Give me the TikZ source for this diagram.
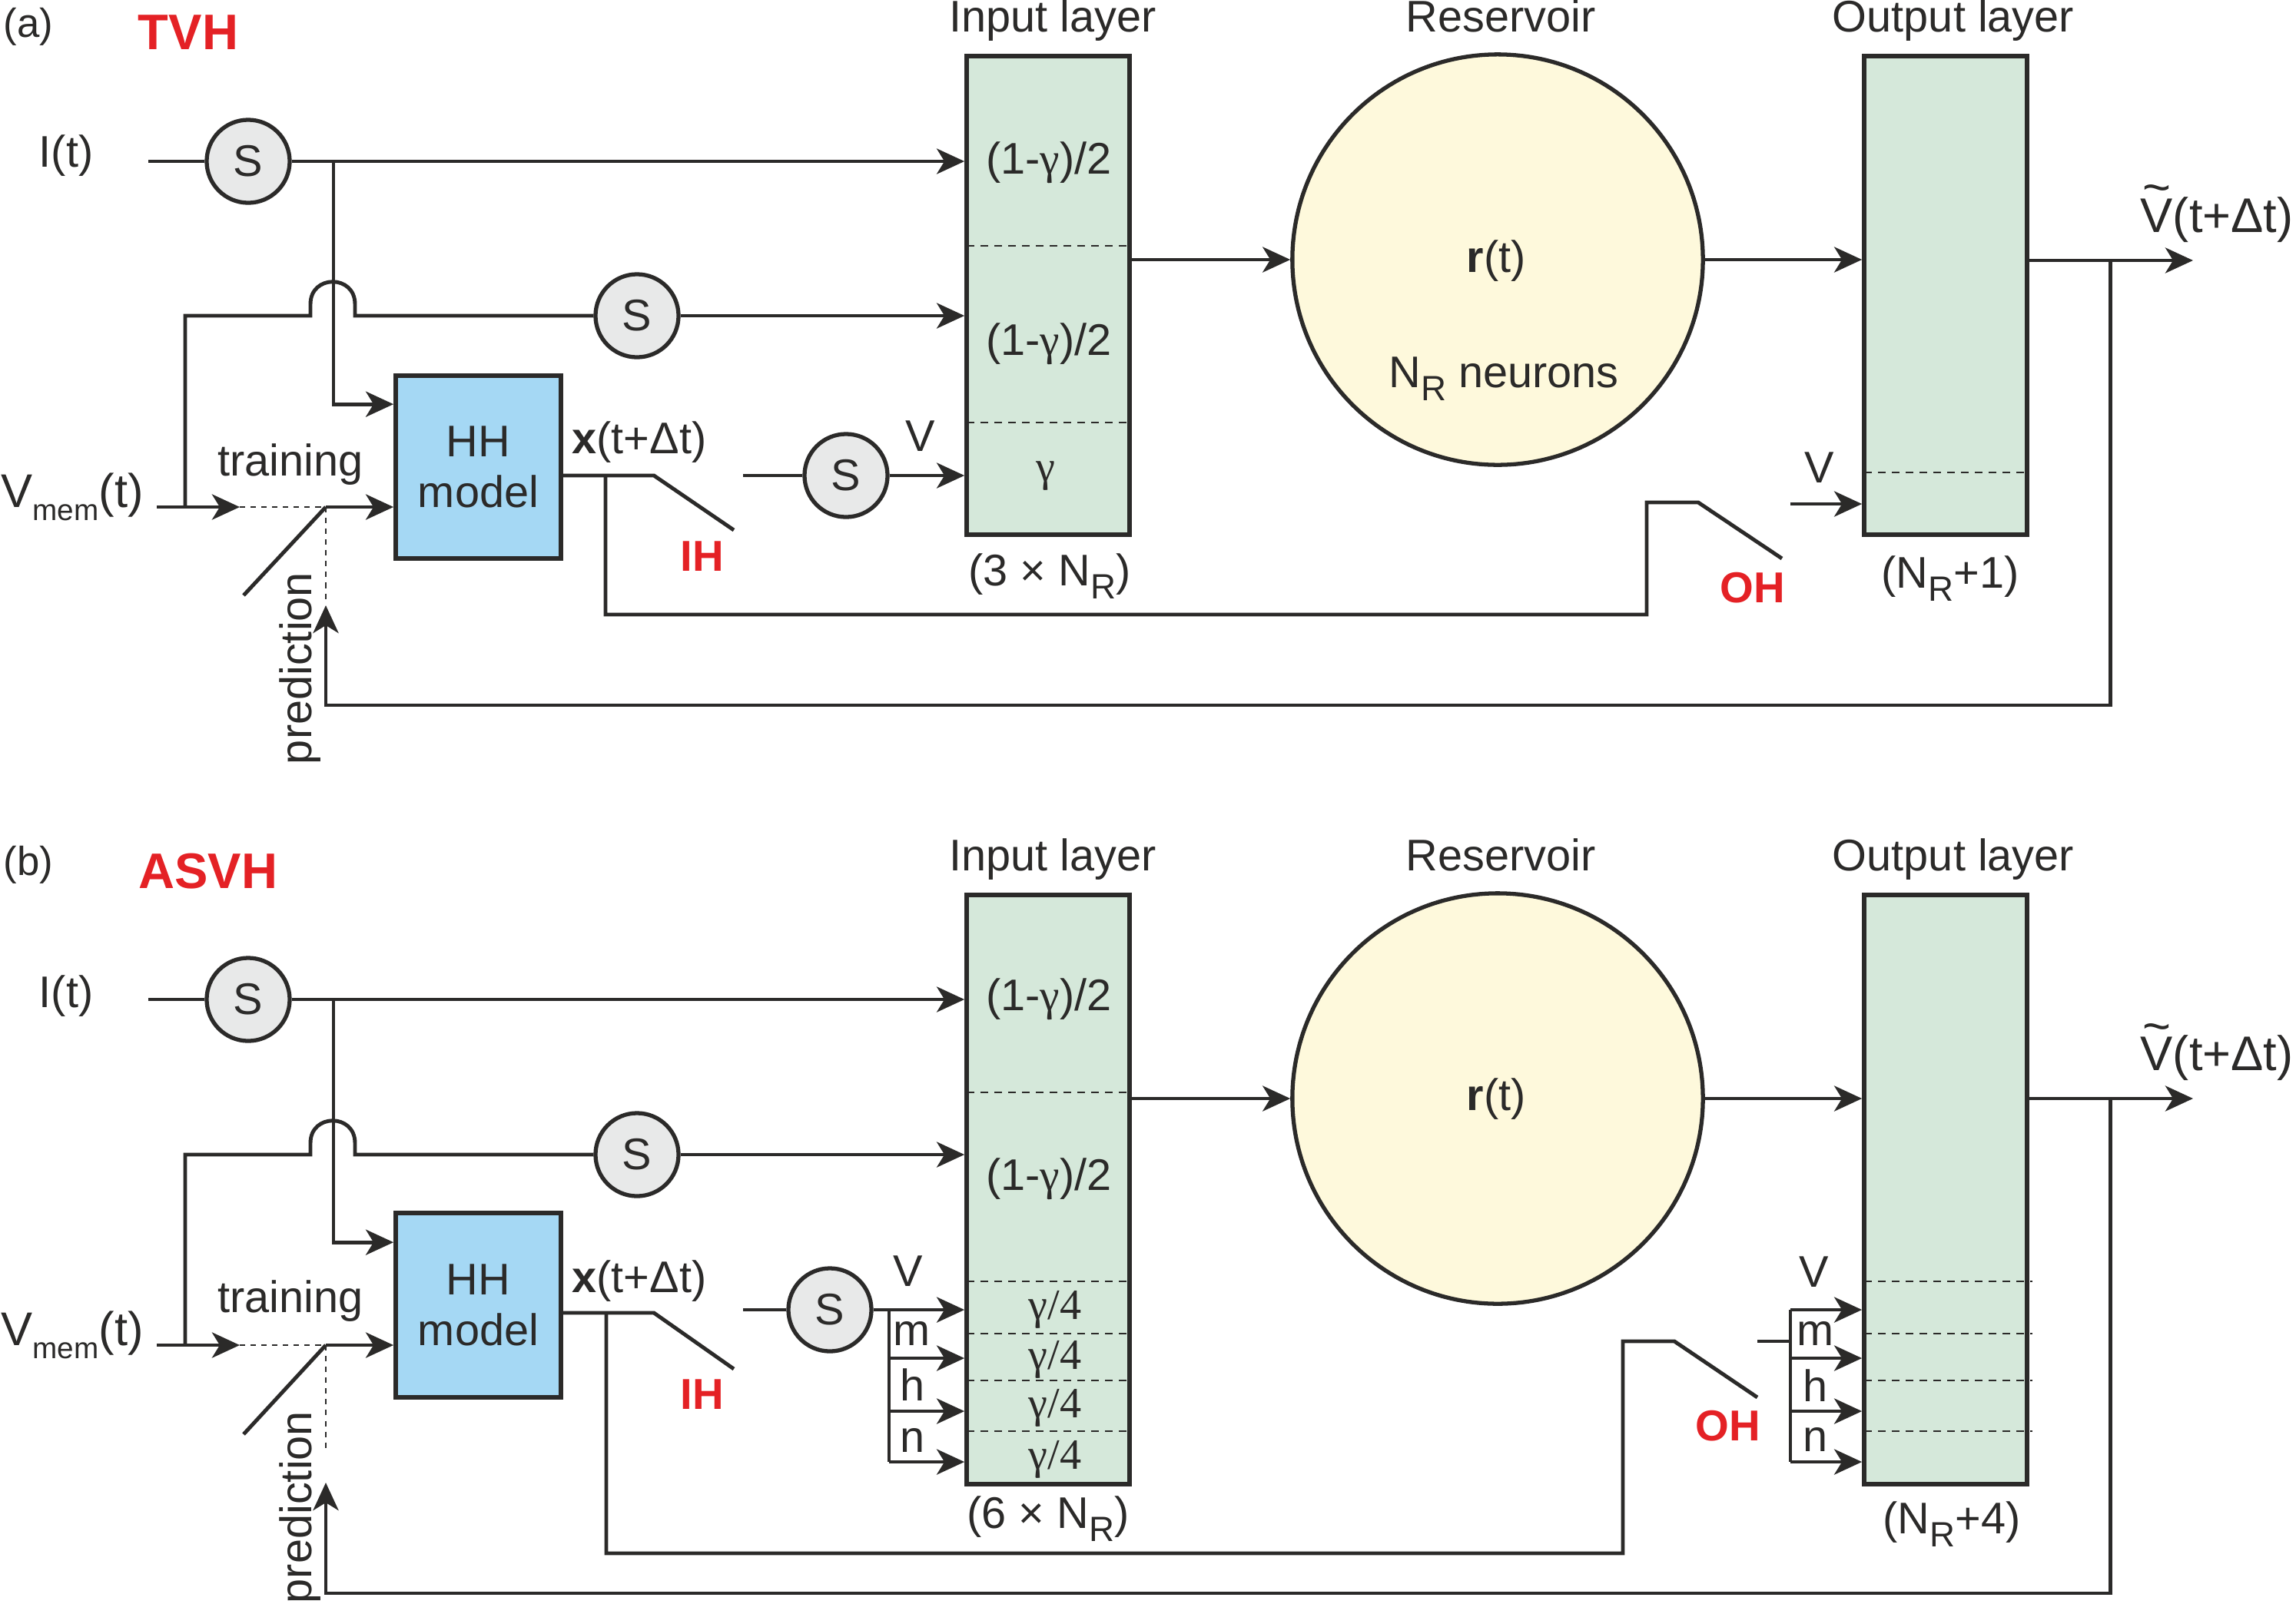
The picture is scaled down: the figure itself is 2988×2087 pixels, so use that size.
\documentclass[tikz,border=0pt]{standalone}
\usepackage{fontspec}
\setmainfont{Liberation Sans}
\newfontfamily\serifgr{Liberation Serif}
\usetikzlibrary{arrows.meta,calc}

\definecolor{ink}{HTML}{2B2A29}
\definecolor{sgray}{HTML}{E8E9E9}
\definecolor{hhblue}{HTML}{A5D8F4}
\definecolor{laygreen}{HTML}{D5E8DA}
\definecolor{resyellow}{HTML}{FEF9DC}
\definecolor{redlab}{HTML}{E42125}

\newcommand{\lbl}{\fontsize{16.4}{19}\selectfont}
\newcommand{\gam}{{\serifgr γ}}
\newcommand{\NR}{N\raisebox{-0.3em}{\fontsize{13}{15}\selectfont R}}
\newcommand{\vmemtxt}{\fontsize{17.5}{20}\selectfont V\raisebox{-0.17cm}{\fontsize{11}{13}\selectfont mem}(t)}
\newcommand{\vtil}{\makebox[0pt][l]{\raisebox{0.36cm}{\hspace{0.03cm}\textasciitilde}}V}

\tikzset{
  wire/.style={draw=ink, line width=1.4pt},
  arr/.style={wire, -{Stealth[length=3.6mm, width=3.3mm, inset=1mm]}},
  dotline/.style={draw=ink, line width=0.8pt, dash pattern=on 2pt off 2pt},
  sep/.style={draw=ink, line width=0.6pt, dash pattern=on 1mm off 0.8mm},
  snode/.style={circle, draw=ink, line width=1.5pt, fill=sgray, minimum size=1.08cm, inner sep=0pt, font=\lbl, text=ink},
  hhbox/.style={rectangle, draw=ink, line width=1.6pt, fill=hhblue, minimum width=2.15cm, align=center, font=\lbl, text=ink, inner sep=0pt},
  layer/.style={rectangle, draw=ink, line width=1.6pt, fill=laygreen, minimum width=2.12cm, inner sep=0pt},
  resv/.style={circle, draw=ink, line width=1.5pt, fill=resyellow, minimum size=5.34cm, inner sep=0pt},
  txt/.style={font=\lbl, text=ink, inner sep=0pt, anchor=base},
  gtxt/.style={txt, font=\serifgr\fontsize{16}{19}\selectfont},
  tag/.style={font=\fontsize{16}{19}\selectfont\bfseries, text=redlab, inner sep=0pt, anchor=base},
}

\begin{document}
\begin{tikzpicture}[x=0.01cm, y=-0.01cm]
\useasboundingbox (0,0) rectangle (2988,2087);

%%%%%%%%%%%%%%%%%%%% (a) TVH
\node (tagA) [txt, font=\fontsize{15}{18}\selectfont] at (37,48) {(a)};
\node (nameA) [tag, font=\fontsize{18.5}{22}\selectfont\bfseries] at (245,64) {TVH};

\node (itA) [txt] at (86,217) {I(t)};
\node (vmA) [txt, anchor=base west] at (1,660) {\vmemtxt};

\node (s1A) [snode] at (323,210) {S};
\node (s2A) [snode] at (829,411) {S};
\node (s3A) [snode] at (1101,619) {S};
\node (hhA) [hhbox, minimum height=2.38cm] at (622.5,608) {HH\\model};

\node (inA)  [layer, minimum height=6.23cm] at (1364,384.5) {};
\node (resA) [resv] at (1949,338) {};
\node (outA) [layer, minimum height=6.23cm] at (2532,384.5) {};

\foreach \yy in {320,550} \draw[sep] (1258,\yy) -- (1470,\yy);
\draw[sep] (2426,615) -- (2638,615);

% free ends and switches
\coordinate (iinA) at (193,210);
\coordinate (brA) at (434,210);
\coordinate (vinA) at (204,660);
\coordinate (vjA) at (241,660);
\coordinate (trtipA) at (312,660);
\coordinate (pivA) at (424,660);
\coordinate (swlowA) at (317,775);
\coordinate (dotendA) at (424,784);
\coordinate (ihpA) at (851,619);
\coordinate (ihendA) at (955,690);
\coordinate (ihbrA) at (788,619);
\coordinate (ohbotA) at (2143,800);
\coordinate (ohpA) at (2210,654);
\coordinate (ohendA) at (2319,727);
\coordinate (s3inA) at (967,619);
\coordinate (vooA) at (2330,656);
\coordinate (youtA) at (2854,339);
\coordinate (fbA) at (2746,339);
\coordinate (prbotA) at (424,918);
\coordinate (prtipA) at (424,788);

% ARROWS
\draw[wire] (iinA) -- (s1A);
\draw[arr] (s1A) -- (s1A -| inA.west);
\draw[arr] (brA) |- ([yshift=-0.4cm]hhA.north west);
\draw[arr] (vinA) -- (trtipA);
\draw[dotline] (trtipA) -- (pivA);
\draw[arr] (pivA) -- (pivA -| hhA.west);
\draw[wire] (pivA) -- (swlowA);
\draw[dotline] (pivA) -- (dotendA);
\draw[wire] (vjA) |- (404,411) -- (404,396) .. controls (404,357) and (462,357) .. (462,396) -- (462,411) -- (s2A);
\draw[arr] (s2A) -- (s2A -| inA.west);
\draw[wire] (hhA.east |- s3A) -- (ihpA) -- (ihendA);
\draw[wire] (ihbrA) |- (ohbotA) |- (ohpA) -- (ohendA);
\draw[wire] (s3inA) -- (s3A);
\draw[arr] (s3A) -- (s3A -| inA.west);
\draw[arr] (resA.west -| inA.east) -- (resA);
\draw[arr] (resA) -- (resA -| outA.west);
\draw[arr] (vooA) -- (vooA -| outA.west);
\draw[arr] (youtA -| outA.east) -- (youtA);
\draw[arr] (fbA) |- (prbotA) -- (prtipA);

% NOTES
\node (tinA)  [txt] at (1370,41) {Input layer};
\node (tresA) [txt] at (1953,41) {Reservoir};
\node (toutA) [txt] at (2542,41) {Output layer};
\node (l1A) [txt] at (1365,226) {(1-\gam)/2};
\node (l2A) [txt] at (1365,462) {(1-\gam)/2};
\node (l3A) [gtxt] at (1361,626) {γ};
\node (szinA) [txt] at (1366,762) {(3 × \NR)};
\node (rA) [txt] at (1947,354) {\textbf{r}(t)};
\node (neurA) [txt, anchor=base west] at (1807,504) {\NR{} neurons};
\node (szoutA) [txt] at (2538,765) {(\NR+1)};
\node (yA) [txt, anchor=base west, font=\fontsize{18}{21}\selectfont] at (2785,302) {\vtil(t+Δt)};
\node (xA) [txt] at (832,590) {\textbf{x}(t+Δt)};
\node (trA) [txt] at (378,619) {training};
\node (prA) [txt, rotate=90] at (405,870) {prediction};
\node (vA) [txt] at (1198,587) {V};
\node (voA) [txt] at (2368,628) {V};
\node (ihA) [tag] at (914,743) {IH};
\node (ohA) [tag] at (2281,784) {OH};

%%%%%%%%%%%%%%%%%%%% (b) ASVH
\node (tagB) [txt, font=\fontsize{15}{18}\selectfont] at (37,1139) {(b)};
\node (nameB) [tag, font=\fontsize{18.5}{22}\selectfont\bfseries] at (271,1156) {ASVH};

\node (itB) [txt] at (86,1311) {I(t)};
\node (vmB) [txt, anchor=base west] at (1,1751) {\vmemtxt};

\node (s1B) [snode] at (323,1301) {S};
\node (s2B) [snode] at (829,1503) {S};
\node (s3B) [snode] at (1080,1705) {S};
\node (hhB) [hhbox, minimum height=2.40cm] at (622.5,1699) {HH\\model};

\node (inB)  [layer, minimum height=7.67cm] at (1364,1548.5) {};
\node (resB) [resv] at (1949,1430) {};
\node (outB) [layer, minimum height=7.67cm] at (2532,1548.5) {};

\foreach \yy in {1422,1668,1736,1797,1863} \draw[sep] (1258,\yy) -- (1470,\yy);
\foreach \yy in {1668,1736,1797,1863} \draw[sep] (2426,\yy) -- (2645,\yy);

% free ends and switches
\coordinate (iinB) at (193,1301);
\coordinate (brB) at (434,1301);
\coordinate (vinB) at (204,1751);
\coordinate (vjB) at (241,1751);
\coordinate (trtipB) at (312,1751);
\coordinate (pivB) at (424,1751);
\coordinate (swlowB) at (317,1867);
\coordinate (dotendB) at (424,1887);
\coordinate (ihpB) at (851,1709);
\coordinate (ihendB) at (955,1782);
\coordinate (ihbrB) at (789,1709);
\coordinate (ohbotB) at (2112,2022);
\coordinate (ohpB) at (2179,1746);
\coordinate (ohendB) at (2287,1819);
\coordinate (s3inB) at (967,1705);
\coordinate (busiB) at (1157,1705);
\coordinate (busoB) at (2330,1705);
\coordinate (stubB) at (2287,1746);
\coordinate (youtB) at (2854,1430);
\coordinate (fbB) at (2746,1430);
\coordinate (prbotB) at (424,2074);
\coordinate (prtipB) at (424,1930);

% ARROWS
\draw[wire] (iinB) -- (s1B);
\draw[arr] (s1B) -- (s1B -| inB.west);
\draw[arr] (brB) |- ([yshift=-0.41cm]hhB.north west);
\draw[arr] (vinB) -- (trtipB);
\draw[dotline] (trtipB) -- (pivB);
\draw[arr] (pivB) -- (pivB -| hhB.west);
\draw[wire] (pivB) -- (swlowB);
\draw[dotline] (pivB) -- (dotendB);
\draw[wire] (vjB) |- (404,1503) -- (404,1488) .. controls (404,1449) and (462,1449) .. (462,1488) -- (462,1503) -- (s2B);
\draw[arr] (s2B) -- (s2B -| inB.west);
\draw[wire] (hhB.east |- ihpB) -- (ihpB) -- (ihendB);
\draw[wire] (ihbrB) |- (ohbotB) |- (ohpB) -- (ohendB);
\draw[wire] (s3inB) -- (s3B);
\draw[wire] (s3B) -- (busiB) -- ++(0,198);
\foreach \yy in {1705,1768,1837,1903} {
  \coordinate (tap) at (1157,\yy);
  \draw[arr] (tap) -- (tap -| inB.west);
}
\draw[wire] (stubB) -- (stubB -| busoB);
\draw[wire] (busoB) -- ++(0,198);
\foreach \yy in {1705,1768,1837,1903} {
  \coordinate (tap) at (2330,\yy);
  \draw[arr] (tap) -- (tap -| outB.west);
}
\draw[arr] (resB.west -| inB.east) -- (resB);
\draw[arr] (resB) -- (resB -| outB.west);
\draw[arr] (youtB -| outB.east) -- (youtB);
\draw[arr] (fbB) |- (prbotB) -- (prtipB);

% NOTES
\node (tinB)  [txt] at (1370,1133) {Input layer};
\node (tresB) [txt] at (1953,1133) {Reservoir};
\node (toutB) [txt] at (2542,1133) {Output layer};
\node (l1B) [txt] at (1365,1315) {(1-\gam)/2};
\node (l2B) [txt] at (1365,1549) {(1-\gam)/2};
\node (g1B) [gtxt] at (1373,1717) {γ/4};
\node (g2B) [gtxt] at (1373,1782) {γ/4};
\node (g3B) [gtxt] at (1373,1845) {γ/4};
\node (g4B) [gtxt] at (1373,1912) {γ/4};
\node (szinB) [txt] at (1364,1989) {(6 × \NR)};
\node (rB) [txt] at (1947,1445) {\textbf{r}(t)};
\node (szoutB) [txt] at (2540,1996) {(\NR+4)};
\node (yB) [txt, anchor=base west, font=\fontsize{18}{21}\selectfont] at (2785,1393) {\vtil(t+Δt)};
\node (xB) [txt] at (832,1682) {\textbf{x}(t+Δt)};
\node (trB) [txt] at (378,1708) {training};
\node (prB) [txt, rotate=90] at (405,1962) {prediction};
\node (viB) [txt] at (1182,1674) {V};
\node (miB) [txt] at (1187,1751) {m};
\node (hiB) [txt] at (1188,1823) {h};
\node (niB) [txt] at (1188,1890) {n};
\node (voB) [txt] at (2361,1675) {V};
\node (moB) [txt] at (2362,1751) {m};
\node (hoB) [txt] at (2363,1824) {h};
\node (noB) [txt] at (2363,1889) {n};
\node (ihB) [tag] at (914,1834) {IH};
\node (ohB) [tag] at (2249,1875) {OH};

\end{tikzpicture}
\end{document}
